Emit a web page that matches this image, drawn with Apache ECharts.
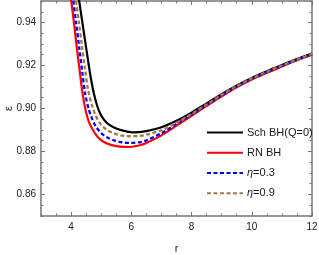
<!DOCTYPE html>
<html><head><meta charset="utf-8">
<script src="https://cdn.jsdelivr.net/npm/echarts@6/dist/echarts.min.js"></script>
<style>html,body{margin:0;padding:0;background:#fff}#c{width:319px;height:255px}</style>
</head><body><div id="c"></div>
<script>
// ---- data ----
const seriesNames = ['Sch BH(Q=0)', 'RN BH', 'η=0.3', 'η=0.9'];
const rBlack = [4.2,4.26,4.36,4.46,4.56,4.66,4.76,4.86,4.96,5.09,5.22,5.39,5.62,5.85,6.05,6.5,7.0,7.5,8.0,8.5,9.0,9.5,10,10.5,11,11.5,12];
const vBlack = [0.9545,0.9506,0.9413,0.9319,0.9226,0.9137,0.9067,0.9015,0.8978,0.8948,0.8929,0.8914,0.8901,0.8893,0.8889,0.8895,0.8913,0.8943,0.8981,0.9024,0.9067,0.9107,0.9142,0.9173,0.9202,0.9230,0.9256];
const rRed = [3.95,4.0,4.1,4.19,4.29,4.39,4.49,4.59,4.73,4.89,5.09,5.32,5.62,5.95,6.28,6.5,7.0,7.5,8.0,8.5,9.0,9.5,10,10.5,11,11.5,12];
const vRed = [0.956,0.9506,0.9394,0.9282,0.9170,0.9062,0.8987,0.8938,0.8899,0.8866,0.8844,0.8831,0.8823,0.8821,0.8829,0.8840,0.8875,0.8920,0.8966,0.9012,0.9057,0.9099,0.9135,0.9166,0.9196,0.9224,0.9250];
const rBlue = [4.02,4.07,4.17,4.27,4.37,4.47,4.58,4.69,4.82,4.99,5.19,5.42,5.69,5.99,6.32,6.5,7.0,7.5,8.0,8.5,9.0,9.5,10,10.5,11,11.5,12];
const vBlue = [0.956,0.9506,0.9394,0.9282,0.9170,0.9067,0.8999,0.8955,0.8917,0.8887,0.8866,0.8852,0.8843,0.8840,0.8844,0.8852,0.8885,0.8928,0.8971,0.9016,0.9061,0.9102,0.9138,0.9169,0.9198,0.9226,0.9252];
const rBrown = [4.11,4.16,4.26,4.36,4.46,4.56,4.68,4.81,4.96,5.16,5.39,5.65,5.95,6.28,6.5,7.0,7.5,8.0,8.5,9.0,9.5,10,10.5,11,11.5,12];
const vBrown = [0.956,0.9506,0.9399,0.9291,0.9184,0.9090,0.9020,0.8969,0.8931,0.8903,0.8886,0.8875,0.8871,0.8873,0.8878,0.8899,0.8934,0.8975,0.9019,0.9064,0.9104,0.9140,0.9171,0.9200,0.9228,0.9254];
const xMajorTicks = [4,6,8,10,12];
const yMajorTicks = [0.86,0.88,0.90,0.92,0.94];
const xRange = [3, 12];
const yRange = [0.85, 0.95];

const frame = '#767676';
const FONT = 'Liberation Sans, Arial, sans-serif';
function pairs(r, v){ return r.map((x,i)=>[x, v[i]]); }
function axis(pos, major, isX){
  const rng = isX ? xRange : yRange;
  const ticks = isX ? xMajorTicks : yMajorTicks;
  const labelOn = major && (pos === 'bottom' || pos === 'left');
  const a = {
    type:'value', position: pos, min: rng[0], max: rng[1],
    splitLine:{show:false},
    axisLine:{show: major, onZero:false, lineStyle:{color:frame, width:1.5}},
    axisTick:{show:true, inside:true, length: major?4:2.5, lineStyle:{color:frame, width:1}},
    axisLabel:{show: labelOn, color:'#1a1a1a', fontSize:10, fontFamily:FONT,
      margin: isX?6:5, formatter: v => isX ? String(v) : v.toFixed(2)}
  };
  if (major){
    a.axisTick.customValues = ticks;
    a.axisLabel.customValues = ticks;
  } else {
    a.interval = isX ? 0.5 : 0.005;
  }
  return a;
}
const xAxes = [axis('bottom',true,true), axis('bottom',false,true), axis('top',true,true), axis('top',false,true)];
const yAxes = [axis('left',true,false), axis('left',false,false), axis('right',true,false), axis('right',false,false)];
xAxes[0].name = 'r'; xAxes[0].nameLocation = 'middle'; xAxes[0].nameGap = 27; xAxes[0].nameMoveOverlap = false;
xAxes[0].nameTextStyle = {color:'#1a1a1a', fontSize:11, fontFamily:FONT};
yAxes[0].name = 'ε'; yAxes[0].nameLocation = 'middle'; yAxes[0].nameGap = 27; yAxes[0].nameRotate = 90; yAxes[0].nameMoveOverlap = false;
yAxes[0].nameTextStyle = {color:'#1a1a1a', fontSize:11, fontFamily:FONT};

function line(name, r, v, color, type, width){
  return {name, type:'line', xAxisIndex:0, yAxisIndex:0, data: pairs(r,v), showSymbol:false, symbol:'none',
    smooth:0.3, clip:true, animation:false,
    lineStyle:{color, width, type}, itemStyle:{color}};
}
const chart = echarts.init(document.getElementById('c'), null, {renderer:'canvas'});
chart.setOption({
  animation:false,
  backgroundColor:'#fff',
  grid:{left:41, right:7, top:1, bottom:39, containLabel:false, outerBoundsMode:'none'},
  xAxis: xAxes,
  yAxis: yAxes,
  legend:{
    orient:'vertical', left:206, top:127, padding:0, itemWidth:36, itemHeight:14, itemGap:9,
    data: seriesNames,
    itemStyle:{opacity:0},
    textStyle:{color:'#1a1a1a', fontSize:11, fontFamily:FONT, padding:[0,0,0,-1],
      rich:{i:{fontStyle:'italic', fontSize:11, fontFamily:FONT, color:'#1a1a1a'}}},
    formatter: n => n.charAt(0)==='η' ? '{i|η}' + n.slice(1) : n
  },
  series:[
    line(seriesNames[0], rBlack, vBlack, '#000000', 'solid', 2.2),
    line(seriesNames[1], rRed, vRed, '#ff0000', 'solid', 2.2),
    line(seriesNames[2], rBlue, vBlue, '#0000ff', [4,2.5], 2.3),
    line(seriesNames[3], rBrown, vBrown, '#a57644', [4,2.5], 2.3)
  ]
});
</script></body></html>
